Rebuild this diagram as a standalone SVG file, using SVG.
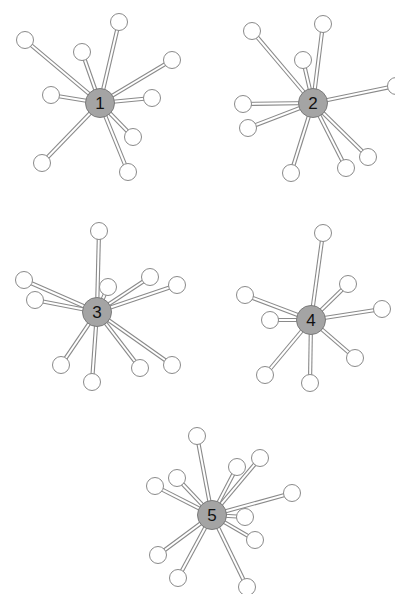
<svg xmlns="http://www.w3.org/2000/svg" xmlns:xlink="http://www.w3.org/1999/xlink" width="395" height="594" viewBox="0 0 395 594">
<style>
.rail{stroke:#8a8a8a;stroke-width:4.2;fill:none;stroke-linecap:butt}
.gap{stroke:#ffffff;stroke-width:2;fill:none;stroke-linecap:butt}
.leaf{fill:#ffffff;stroke:#8a8a8a;stroke-width:1}
.hub{fill:#a4a4a4;stroke:#7a7a7a;stroke-width:1}
.lbl{font-family:"Liberation Sans",Arial,sans-serif;font-size:17px;fill:#111;text-anchor:middle;dominant-baseline:central}
</style>
<defs>
<g id="edges">
<line x1="100" y1="103" x2="25" y2="40"/>
<line x1="100" y1="103" x2="119" y2="22"/>
<line x1="100" y1="103" x2="82" y2="52"/>
<line x1="100" y1="103" x2="172" y2="60"/>
<line x1="100" y1="103" x2="51" y2="95"/>
<line x1="100" y1="103" x2="152" y2="98"/>
<line x1="100" y1="103" x2="133" y2="137"/>
<line x1="100" y1="103" x2="42" y2="163"/>
<line x1="100" y1="103" x2="128" y2="172"/>
<line x1="313" y1="103" x2="252" y2="31"/>
<line x1="313" y1="103" x2="323" y2="24"/>
<line x1="313" y1="103" x2="303" y2="60"/>
<line x1="313" y1="103" x2="395" y2="86"/>
<line x1="313" y1="103" x2="243" y2="104"/>
<line x1="313" y1="103" x2="248" y2="128"/>
<line x1="313" y1="103" x2="291" y2="173"/>
<line x1="313" y1="103" x2="346" y2="168"/>
<line x1="313" y1="103" x2="368" y2="157"/>
<line x1="97" y1="312" x2="99" y2="231"/>
<line x1="97" y1="312" x2="24" y2="280"/>
<line x1="97" y1="312" x2="35" y2="300"/>
<line x1="97" y1="312" x2="108" y2="287"/>
<line x1="97" y1="312" x2="150" y2="277"/>
<line x1="97" y1="312" x2="177" y2="285"/>
<line x1="97" y1="312" x2="61" y2="365"/>
<line x1="97" y1="312" x2="92" y2="382"/>
<line x1="97" y1="312" x2="140" y2="368"/>
<line x1="97" y1="312" x2="172" y2="365"/>
<line x1="311" y1="320" x2="323" y2="233"/>
<line x1="311" y1="320" x2="245" y2="295"/>
<line x1="311" y1="320" x2="270" y2="320"/>
<line x1="311" y1="320" x2="348" y2="284"/>
<line x1="311" y1="320" x2="382" y2="309"/>
<line x1="311" y1="320" x2="355" y2="358"/>
<line x1="311" y1="320" x2="265" y2="375"/>
<line x1="311" y1="320" x2="310" y2="383"/>
<line x1="212" y1="515" x2="197" y2="436"/>
<line x1="212" y1="515" x2="177" y2="478"/>
<line x1="212" y1="515" x2="155" y2="486"/>
<line x1="212" y1="515" x2="237" y2="467"/>
<line x1="212" y1="515" x2="260" y2="458"/>
<line x1="212" y1="515" x2="292" y2="493"/>
<line x1="212" y1="515" x2="245" y2="517"/>
<line x1="212" y1="515" x2="255" y2="540"/>
<line x1="212" y1="515" x2="158" y2="555"/>
<line x1="212" y1="515" x2="178" y2="578"/>
<line x1="212" y1="515" x2="247" y2="587"/>
</g>
</defs>
<rect width="395" height="594" fill="#ffffff"/>
<g id="connectors">
<use xlink:href="#edges" class="rail"/>
<use xlink:href="#edges" class="gap"/>
</g>
<g id="leaves">
<g id="n1a"><circle class="leaf" cx="25" cy="40" r="8.5"/></g>
<g id="n1b"><circle class="leaf" cx="119" cy="22" r="8.5"/></g>
<g id="n1c"><circle class="leaf" cx="82" cy="52" r="8.5"/></g>
<g id="n1d"><circle class="leaf" cx="172" cy="60" r="8.5"/></g>
<g id="n1e"><circle class="leaf" cx="51" cy="95" r="8.5"/></g>
<g id="n1f"><circle class="leaf" cx="152" cy="98" r="8.5"/></g>
<g id="n1g"><circle class="leaf" cx="133" cy="137" r="8.5"/></g>
<g id="n1h"><circle class="leaf" cx="42" cy="163" r="8.5"/></g>
<g id="n1i"><circle class="leaf" cx="128" cy="172" r="8.5"/></g>
<g id="n2a"><circle class="leaf" cx="252" cy="31" r="8.5"/></g>
<g id="n2b"><circle class="leaf" cx="323" cy="24" r="8.5"/></g>
<g id="n2c"><circle class="leaf" cx="303" cy="60" r="8.5"/></g>
<g id="n2d"><circle class="leaf" cx="396" cy="86" r="8.5"/></g>
<g id="n2e"><circle class="leaf" cx="243" cy="104" r="8.5"/></g>
<g id="n2f"><circle class="leaf" cx="248" cy="128" r="8.5"/></g>
<g id="n2g"><circle class="leaf" cx="291" cy="173" r="8.5"/></g>
<g id="n2h"><circle class="leaf" cx="346" cy="168" r="8.5"/></g>
<g id="n2i"><circle class="leaf" cx="368" cy="157" r="8.5"/></g>
<g id="n3a"><circle class="leaf" cx="99" cy="231" r="8.5"/></g>
<g id="n3b"><circle class="leaf" cx="24" cy="280" r="8.5"/></g>
<g id="n3c"><circle class="leaf" cx="35" cy="300" r="8.5"/></g>
<g id="n3d"><circle class="leaf" cx="108" cy="287" r="8.5"/></g>
<g id="n3e"><circle class="leaf" cx="150" cy="277" r="8.5"/></g>
<g id="n3f"><circle class="leaf" cx="177" cy="285" r="8.5"/></g>
<g id="n3g"><circle class="leaf" cx="61" cy="365" r="8.5"/></g>
<g id="n3h"><circle class="leaf" cx="92" cy="382" r="8.5"/></g>
<g id="n3i"><circle class="leaf" cx="140" cy="368" r="8.5"/></g>
<g id="n3j"><circle class="leaf" cx="172" cy="365" r="8.5"/></g>
<g id="n4a"><circle class="leaf" cx="323" cy="233" r="8.5"/></g>
<g id="n4b"><circle class="leaf" cx="245" cy="295" r="8.5"/></g>
<g id="n4c"><circle class="leaf" cx="270" cy="320" r="8.5"/></g>
<g id="n4d"><circle class="leaf" cx="348" cy="284" r="8.5"/></g>
<g id="n4e"><circle class="leaf" cx="382" cy="309" r="8.5"/></g>
<g id="n4f"><circle class="leaf" cx="355" cy="358" r="8.5"/></g>
<g id="n4g"><circle class="leaf" cx="265" cy="375" r="8.5"/></g>
<g id="n4h"><circle class="leaf" cx="310" cy="383" r="8.5"/></g>
<g id="n5a"><circle class="leaf" cx="197" cy="436" r="8.5"/></g>
<g id="n5b"><circle class="leaf" cx="177" cy="478" r="8.5"/></g>
<g id="n5c"><circle class="leaf" cx="155" cy="486" r="8.5"/></g>
<g id="n5d"><circle class="leaf" cx="237" cy="467" r="8.5"/></g>
<g id="n5e"><circle class="leaf" cx="260" cy="458" r="8.5"/></g>
<g id="n5f"><circle class="leaf" cx="292" cy="493" r="8.5"/></g>
<g id="n5g"><circle class="leaf" cx="245" cy="517" r="8.5"/></g>
<g id="n5h"><circle class="leaf" cx="255" cy="540" r="8.5"/></g>
<g id="n5i"><circle class="leaf" cx="158" cy="555" r="8.5"/></g>
<g id="n5j"><circle class="leaf" cx="178" cy="578" r="8.5"/></g>
<g id="n5k"><circle class="leaf" cx="247" cy="587" r="8.5"/></g>
</g>
<g id="hubs">
<g id="hub1"><circle class="hub" cx="100" cy="103" r="14.5"/><text class="lbl" x="100" y="103">1</text></g>
<g id="hub2"><circle class="hub" cx="313" cy="103" r="14.5"/><text class="lbl" x="313" y="103">2</text></g>
<g id="hub3"><circle class="hub" cx="97" cy="312" r="14.5"/><text class="lbl" x="97" y="312">3</text></g>
<g id="hub4"><circle class="hub" cx="311" cy="320" r="14.5"/><text class="lbl" x="311" y="320">4</text></g>
<g id="hub5"><circle class="hub" cx="212" cy="515" r="14.5"/><text class="lbl" x="212" y="515">5</text></g>
</g>
</svg>
